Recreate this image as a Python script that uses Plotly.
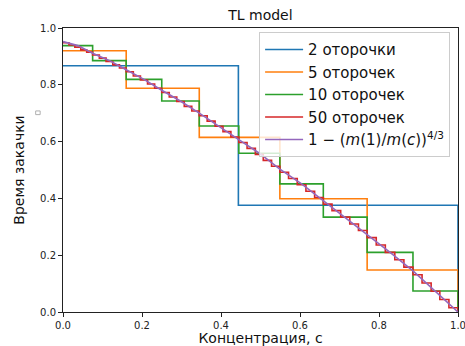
import plotly.graph_objects as go

# Step edges (concentration c) and levels (injection time) for each slug count
edges_2 = [0.0, 0.444, 1.0]
levels_2 = [0.867, 0.376]

edges_5 = [0.0, 0.16, 0.345, 0.549, 0.77, 1.0]
levels_5 = [0.920, 0.788, 0.615, 0.399, 0.148]

edges_10 = [0.0, 0.075, 0.16, 0.25, 0.345, 0.445, 0.549, 0.659, 0.77, 0.886, 1.0]
levels_10 = [0.938, 0.885, 0.819, 0.743, 0.655, 0.559, 0.451, 0.334, 0.210, 0.074]

edges_50 = [
    0.0, 0.015, 0.030, 0.045, 0.060, 0.075,
    0.092, 0.109, 0.126, 0.143, 0.16,
    0.178, 0.196, 0.214, 0.232, 0.25,
    0.269, 0.288, 0.307, 0.326, 0.345,
    0.365, 0.385, 0.405, 0.425, 0.445,
    0.466, 0.487, 0.507, 0.528, 0.549,
    0.571, 0.593, 0.615, 0.637, 0.659,
    0.681, 0.703, 0.726, 0.748, 0.77,
    0.793, 0.816, 0.840, 0.863, 0.886,
    0.909, 0.932, 0.954, 0.977, 1.0,
]
levels_50 = [
    0.948, 0.940, 0.932, 0.923, 0.915,
    0.905, 0.894, 0.882, 0.870, 0.859,
    0.846, 0.831, 0.817, 0.803, 0.788,
    0.773, 0.757, 0.741, 0.724, 0.708,
    0.691, 0.672, 0.654, 0.635, 0.616,
    0.597, 0.576, 0.555, 0.534, 0.513,
    0.492, 0.470, 0.448, 0.425, 0.403,
    0.380, 0.357, 0.334, 0.310, 0.287,
    0.262, 0.236, 0.210, 0.184, 0.158,
    0.131, 0.102, 0.073, 0.044, 0.015,
]

# Continuous curve 1 - (m(1)/m(c))^(4/3)
curve_c = [0.0, 0.0375, 0.075, 0.118, 0.16, 0.205, 0.25, 0.297, 0.345, 0.395, 0.445,
           0.497, 0.549, 0.604, 0.659, 0.715, 0.77, 0.828, 0.886, 0.943, 1.0]
curve_t = [0.952, 0.938, 0.911, 0.885, 0.853, 0.819, 0.781, 0.743, 0.700, 0.655, 0.607,
           0.559, 0.503, 0.451, 0.392, 0.334, 0.275, 0.210, 0.145, 0.074, 0.0]

tick_vals = [0.0, 0.2, 0.4, 0.6, 0.8, 1.0]
tick_text = ["0.0", "0.2", "0.4", "0.6", "0.8", "1.0"]

FONT = "DejaVu Sans, Liberation Sans, sans-serif"

series = [
    ("2 оторочки", edges_2, levels_2, "#1f77b4"),
    ("5 оторочек", edges_5, levels_5, "#ff7f0e"),
    ("10 оторочек", edges_10, levels_10, "#2ca02c"),
    ("50 оторочек", edges_50, levels_50, "#d62728"),
]

fig = go.Figure()
for name, ed, lv, col in series:
    # each step function closes down to zero at c = 1
    fig.add_trace(go.Scatter(
        x=ed, y=lv + [0.0], mode="lines", name=name,
        line=dict(color=col, width=1.6, shape="hv"),
    ))

fig.add_trace(go.Scatter(
    x=curve_c, y=curve_t, mode="lines",
    name="1 − (<i>m</i>(1)/<i>m</i>(<i>c</i>))<sup>4/3</sup>",
    line=dict(color="#9467bd", width=1.6),
))

axis_common = dict(
    range=[0, 1], tickvals=tick_vals, ticktext=tick_text,
    showgrid=False, zeroline=False, showline=True, mirror=True,
    linecolor="#222", linewidth=1, ticks="outside", ticklen=4,
    tickcolor="#222", tickfont=dict(size=10, color="#222", family=FONT),
    automargin=False, ticklabeloverflow="allow",
)

fig.update_layout(
    width=465, height=346,
    margin=dict(l=63, r=7, t=28, b=34),
    paper_bgcolor="white", plot_bgcolor="white",
    font=dict(family=FONT, color="#111"),
    title=dict(text="TL model", x=0.56, xanchor="center", y=0.955, yanchor="middle",
               font=dict(size=14, family=FONT, color="#111")),
    xaxis=dict(axis_common, title=dict(text="Концентрация, c", standoff=6,
                                       font=dict(size=14, family=FONT, color="#111"))),
    yaxis=dict(axis_common, title=dict(text="Время закачки", standoff=12,
                                       font=dict(size=14, family=FONT, color="#111"))),
    legend=dict(
        x=0.98, y=0.985, xanchor="right", yanchor="top",
        bgcolor="rgba(255,255,255,0.8)", bordercolor="#cccccc", borderwidth=1,
        font=dict(size=15, family=FONT, color="#111"),
        itemwidth=38, tracegroupgap=0,
    ),
    shapes=[dict(type="rect", xref="paper", yref="paper",
                 x0=-0.0692, x1=-0.0578, y0=0.695, y1=0.708,
                 line=dict(color="#b0b0b0", width=1), fillcolor="white")],
)

fig.write_html("out.html")
